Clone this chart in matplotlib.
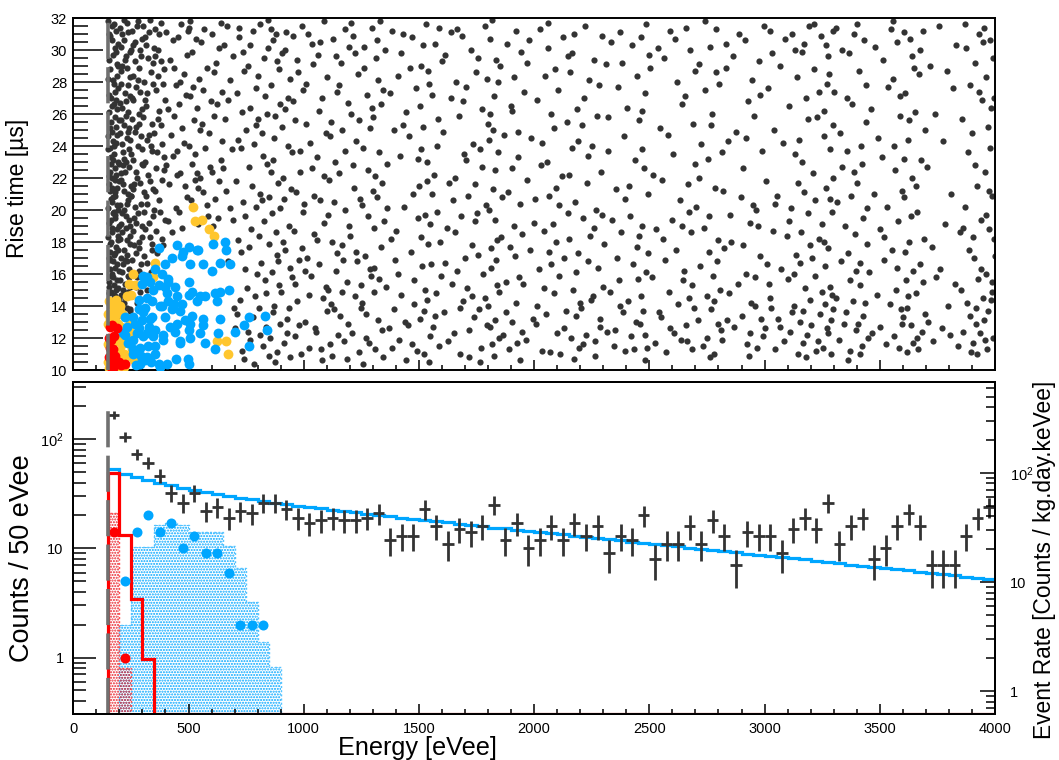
import numpy as np
import matplotlib
matplotlib.use("Agg")
import matplotlib.pyplot as plt
from matplotlib.ticker import FixedLocator, NullFormatter, FuncFormatter, MultipleLocator, LogLocator

plt.rcParams['font.family'] = ['Liberation Sans', 'DejaVu Sans']
plt.rcParams['mathtext.fontset'] = 'custom'
plt.rcParams['mathtext.rm'] = 'Liberation Sans'
plt.rcParams['mathtext.it'] = 'Liberation Sans:italic'
plt.rcParams['lines.scale_dashes'] = False
plt.rcParams['hatch.linewidth'] = 1.0

# ---------------- data ----------------
threshold_eV = 150
bin_width = 50
bin_centers = np.arange(175, 4000, 50)
edges = np.arange(150, 4001, 50)

data_counts = [166, 105, 73, 61, 46, 32, 26, 32, 22, 24,
               19, 22, 21, 26, 26, 23, 19, 17, 18, 19,
               18, 18, 19, 21, 12, 13, 13, 23, 16, 11,
               15, 14, 16, 25, 12, 17, 10, 12, 16, 12,
               17, 13, 16, 9, 13, 12, 20, 8, 11, 11,
               16, 11, 18, 13, 7, 14, 13, 13, 9, 15,
               19, 15, 26, 11, 16, 19, 8, 10, 16, 21,
               16, 7, 7, 7, 13, 19, 24]

fit_counts = [53.0, 48.2, 45.0, 42.2, 39.8, 37.7, 35.8, 34.1, 32.7, 31.4,
              30.1, 29.0, 28.0, 27.0, 26.2, 25.4, 24.6, 23.9, 23.2, 22.5,
              21.9, 21.3, 20.7, 20.2, 19.7, 19.1, 18.6, 18.2, 17.7, 17.3,
              16.8, 16.4, 15.9, 15.5, 15.2, 14.8, 14.4, 14.1, 13.7, 13.4,
              13.0, 12.7, 12.4, 12.1, 11.8, 11.5, 11.2, 10.9, 10.7, 10.4,
              10.1, 9.9, 9.6, 9.4, 9.2, 8.9, 8.7, 8.5, 8.3, 8.1,
              7.9, 7.7, 7.5, 7.3, 7.1, 6.9, 6.8, 6.6, 6.4, 6.3,
              6.1, 6.0, 5.8, 5.7, 5.5, 5.4, 5.2]

blue_sim_edges = [200, 250, 300, 350, 400, 450, 500, 550, 600, 650, 700, 750, 800, 850, 900]
blue_sim_counts = [2.0, 10.3, 10.3, 16.5, 17.0, 16.5, 14.0, 14.0, 14.0, 10.5, 6.6, 3.2, 1.4, 0.82]

red_sim_edges = [150, 200, 250]
red_sim_counts = [21.0, 0.8]

red_fit_edges = [150, 200, 250, 300, 350]
red_fit_counts = [48.7, 13.2, 3.4, 0.97]

blue_dot_E = [225, 275, 325, 375, 425, 475, 525, 575, 625, 675, 725, 775, 825]
blue_dot_counts = [5, 14, 20, 14, 17, 10, 13, 9, 9, 6, 2, 2, 2]
red_dot_E = [175, 225]
red_dot_counts = [14, 1]

rate_scale = 2.04  # Counts/50eVee -> Counts/(kg.day.keVee)

# scatter: flat lists of (energy eV, rise time us)
black_xy = [
 152,31.8, 158,30.9, 166,31.5, 171,29.7, 184,31.2, 193,30.4, 161,28.8, 177,27.9, 189,29.1, 155,27.2,
 168,26.5, 180,25.8, 196,27.6, 159,25.1, 173,24.3, 187,26.9, 151,23.8, 164,22.9, 178,23.5, 191,24.7,
 156,22.1, 170,21.4, 183,22.6, 197,21.8, 162,20.7, 175,19.9, 188,20.3, 153,19.2, 167,18.6, 181,19.5,
 194,18.1, 158,17.4, 172,16.8, 185,17.7, 199,16.2, 163,15.9, 176,15.3, 190,15.6, 154,14.8, 169,14.2,
 182,14.6, 195,13.9, 160,13.4, 174,13.1, 187,12.8, 157,31.0, 179,30.1, 191,28.4, 165,27.0, 186,25.2,
 152,24.6, 174,23.1, 198,22.9, 161,21.2, 183,20.9, 150,20.1, 170,18.9, 192,18.4, 158,16.9, 180,16.4,
 196,15.1, 165,14.9, 185,13.6, 155,29.4, 172,28.1, 189,26.3, 163,25.5, 178,24.0, 194,23.0, 154,21.6,
 168,20.5, 182,19.7, 199,19.0, 160,17.9, 176,17.2, 191,16.6, 157,15.5, 171,14.4, 188,13.3, 166,12.9,
 153,26.1, 184,29.9, 175,31.6, 197,25.6, 162,23.3, 181,21.9, 195,20.0, 150,18.3, 173,15.8, 186,14.1,
 159,22.4, 177,26.6, 192,17.5, 167,16.0, 179,21.1, 155,17.0, 184,15.0, 170,24.9, 196,29.0, 163,19.4,
 151,28.2, 187,22.2, 176,13.8, 161,16.3, 198,14.4, 174,20.8, 158,23.9, 189,18.8, 168,30.6, 181,27.4,
 156,13.5, 193,12.6, 165,18.0, 178,14.7, 185,24.2, 172,19.8, 190,21.4, 153,15.2, 169,22.0, 183,17.3,
 204,31.4, 218,30.6, 231,31.7, 245,29.9, 209,28.7, 224,29.4, 238,27.8, 212,26.4, 229,25.9, 247,27.1,
 201,24.8, 216,23.6, 233,24.5, 242,22.7, 207,21.9, 221,21.2, 236,20.6, 249,21.5, 213,19.8, 227,18.9,
 240,19.4, 203,18.2, 219,17.5, 234,16.8, 246,17.9, 210,16.1, 225,15.4, 239,15.9, 205,14.7, 222,14.2,
 237,14.9, 248,13.8, 214,13.5, 230,26.8, 243,25.1, 208,30.2, 226,22.4, 241,23.8, 202,20.3, 217,16.6,
 235,18.1, 248,15.2, 211,24.1, 223,27.3, 239,31.1, 206,17.0, 220,20.0, 232,13.9, 245,19.0, 215,22.8,
 228,29.6, 244,28.3, 209,25.6, 236,21.0, 203,15.6, 219,23.2, 231,17.2, 247,24.4, 212,18.6, 226,14.5,
 241,16.3, 207,27.9, 222,31.9, 238,26.1, 250,20.9, 214,21.6, 229,19.6, 243,15.8, 205,22.3, 218,13.3,
 234,28.9, 246,18.4, 211,29.0, 225,16.9, 237,24.9, 202,26.7, 221,25.3, 232,20.4, 249,30.0, 216,15.0,
 240,12.9, 208,19.1, 227,23.0, 244,13.7, 213,31.0,
 253,31.2, 266,30.5, 279,31.8, 292,29.6, 258,28.4, 271,27.7, 286,28.9, 299,26.3, 255,25.7, 269,24.9,
 283,26.0, 296,23.8, 261,23.1, 274,22.4, 289,21.7, 252,20.9, 265,21.6, 280,19.8, 294,20.4, 259,18.7,
 273,19.2, 287,17.6, 298,18.3, 256,16.9, 270,17.3, 284,16.2, 263,15.4, 277,15.8, 291,14.9, 254,14.6,
 268,29.3, 282,24.0, 297,30.7, 260,26.9, 276,22.0, 290,27.4, 257,21.3, 272,25.2, 285,18.0, 299,22.9,
 262,19.5, 278,31.5, 293,16.6, 251,23.5, 267,20.2, 281,28.1, 295,24.6, 264,17.8, 275,14.2, 288,30.0,
 253,27.0, 270,15.2, 286,25.4, 298,19.0, 259,30.3,
 304,31.5, 317,30.3, 331,31.9, 345,29.2, 308,28.0, 322,27.3, 338,28.6, 302,25.8, 315,26.5, 329,24.7,
 343,25.4, 311,23.0, 326,22.2, 340,23.7, 306,21.1, 320,20.4, 334,21.8, 348,19.6, 313,18.8, 327,19.2,
 341,17.9, 305,17.1, 319,16.7, 336,16.1, 347,27.9, 309,30.8, 324,29.5, 339,24.0, 301,22.8, 316,20.9,
 332,18.3, 346,21.3, 312,26.9, 328,31.1, 343,17.5, 307,19.9, 321,24.4, 335,15.6, 349,30.1, 318,15.0,
 353,31.3, 366,30.0, 381,31.7, 395,28.8, 358,27.5, 372,26.2, 388,27.9, 351,24.8, 364,23.6, 379,25.3,
 392,22.5, 356,21.2, 370,20.6, 385,21.9, 398,19.4, 361,18.7, 376,19.9, 390,17.8, 354,29.6, 368,28.4,
 383,24.1, 397,26.9, 359,22.6, 374,31.0, 387,18.2, 352,20.0, 367,25.7, 380,29.3, 394,23.3, 363,17.3,
 404,31.1, 418,29.4, 433,30.6, 446,27.8, 409,26.3, 424,24.7, 439,25.9, 402,22.8, 416,21.6, 431,23.4,
 444,20.1, 411,19.3, 427,18.6, 437,28.9, 449,22.2,
 453,30.8, 467,31.6, 481,28.5, 495,29.7, 458,26.6, 472,25.1, 488,27.2, 451,23.7, 464,22.3, 479,24.2,
 493,20.8, 457,19.9, 470,18.9, 485,21.5, 498,31.2, 462,28.0,
 503,31.4, 517,29.9, 532,30.7, 546,28.2, 508,27.1, 523,25.6, 538,26.4, 501,24.0, 514,22.9, 529,23.5,
 543,21.4, 510,20.6, 526,21.9, 540,19.1, 505,31.8, 519,27.7, 535,22.3, 548,25.0,
 553,30.5, 567,31.3, 582,28.9, 596,26.8, 558,25.4, 573,23.9, 588,24.8, 551,22.0, 564,21.1, 579,20.3,
 594,22.7, 561,27.5, 585,19.6,
 604,31.0, 618,29.2, 633,30.1, 647,27.4, 609,25.9, 624,26.6, 639,23.1, 602,22.4, 615,20.7, 631,21.8,
 645,24.3, 611,28.6, 627,19.5, 642,31.7, 606,19.0,
 653,30.3, 667,31.5, 681,28.1, 695,29.6, 658,25.7, 672,26.9, 688,23.8, 651,22.6, 664,21.2, 679,20.1,
 693,19.4, 671,16.8, 697,13.9,
 703,12.6, 709,27.3, 714,18.1, 718,30.8, 722,14.4, 726,23.9, 731,11.2, 735,20.5, 739,28.7, 744,16.3,
 748,25.0, 706,21.8, 712,13.5, 720,31.4, 728,17.4, 733,26.1, 741,10.7, 746,19.6, 716,24.4, 737,29.9,
 752,15.1, 756,29.0, 761,22.7, 765,11.9, 769,26.4, 773,18.8, 778,31.2, 782,13.3, 786,24.1, 791,20.2,
 795,27.6, 799,16.0, 758,12.4, 767,30.3, 776,21.5, 784,10.4, 793,25.3, 763,17.7, 788,14.6,
 801,28.4, 805,13.9, 809,21.0, 812,31.6, 816,16.7, 820,24.8, 824,11.5, 828,19.3, 832,27.1, 836,14.8,
 840,22.9, 844,30.1, 848,17.9, 803,25.7, 811,12.2, 818,20.6, 826,29.5, 834,15.6, 842,26.0, 849,10.9,
 807,18.4, 822,23.4, 838,12.7, 846,31.9,
 851,20.8, 854,12.0, 858,27.8, 861,16.1, 865,30.6, 868,23.1, 872,14.0, 875,25.9, 879,18.6, 882,11.1,
 886,29.3, 889,21.7, 893,15.3, 896,26.6, 899,12.9, 856,31.3, 863,19.8, 870,24.5, 877,10.5, 884,17.2,
 891,28.8, 857,22.4, 866,13.6, 880,31.0, 888,16.8, 897,20.1,
 902,14.9, 906,29.8, 909,22.0, 913,11.7, 917,26.3, 920,17.5, 924,31.1, 928,13.2, 931,24.0, 935,19.0,
 939,28.2, 942,10.8, 946,21.3, 949,15.8, 904,25.2, 911,18.0, 919,30.0, 926,12.3, 933,27.0, 940,16.4,
 947,23.6, 915,20.7, 937,13.9,
 952,30.9, 956,18.7, 960,12.1, 964,25.6, 968,21.1, 972,14.3, 976,28.6, 980,16.9, 984,23.7, 988,11.0,
 992,31.5, 996,19.9, 954,26.8, 962,15.4, 970,29.4, 978,12.8, 986,22.4, 994,17.6, 999,27.5,
 1003,20.4, 1007,13.0, 1012,27.9, 1016,17.0, 1020,31.0, 1025,11.4, 1029,24.2, 1033,15.9, 1037,22.6, 1042,29.1,
 1046,18.5, 1049,12.6, 1010,25.4, 1022,14.7, 1035,30.4, 1044,20.9, 1005,16.2,
 1052,12.4, 1056,23.3, 1061,29.7, 1065,16.6, 1069,20.6, 1073,11.3, 1078,27.0, 1082,14.5, 1086,31.8, 1090,19.2,
 1095,24.8, 1099,13.7, 1058,18.1, 1067,26.2, 1080,10.6, 1088,22.1, 1097,15.2, 1071,30.5,
 1102,28.3, 1106,15.0, 1110,21.9, 1115,11.6, 1119,25.5, 1123,18.0, 1127,30.7, 1132,13.8, 1136,23.0, 1140,16.2,
 1144,27.4, 1149,12.2, 1104,19.7, 1113,24.6, 1121,10.9, 1130,20.5, 1138,29.6, 1146,17.3, 1117,14.1,
 1151,22.3, 1156,13.4, 1160,29.2, 1164,17.8, 1168,25.0, 1173,11.8, 1177,20.0, 1181,31.3, 1186,15.5, 1190,26.7,
 1194,12.9, 1198,19.0, 1154,27.8, 1166,14.9, 1179,23.7, 1188,10.7, 1196,30.2, 1171,16.9,
 1202,18.4, 1206,26.0, 1211,12.3, 1215,30.9, 1219,21.4, 1223,14.6, 1228,24.3, 1232,16.8, 1236,28.5, 1241,11.1,
 1245,20.7, 1249,13.9, 1204,31.7, 1213,22.8, 1226,17.4, 1238,25.6, 1247,15.3, 1221,29.8,
 1252,14.2, 1256,23.9, 1260,30.2, 1265,17.1, 1269,12.0, 1273,27.2, 1278,19.6, 1282,11.7, 1286,25.1, 1290,15.9,
 1295,31.4, 1299,21.2, 1254,20.3, 1263,28.9, 1271,13.5, 1280,22.5, 1288,16.3, 1297,26.4, 1258,10.4,
 1301,25.8, 1305,16.4, 1309,11.3, 1314,29.5, 1318,20.8, 1322,13.1, 1326,23.6, 1331,31.8, 1335,17.7, 1339,12.5,
 1343,27.5, 1348,19.3, 1303,14.9, 1311,22.1, 1320,30.6, 1328,15.7, 1336,26.6, 1345,10.8, 1307,18.9, 1324,28.1,
 1341,21.7,
 1352,30.0, 1357,15.2, 1363,22.9, 1368,12.6, 1374,27.3, 1379,18.2, 1385,11.4, 1390,25.0, 1396,16.9, 1360,20.1,
 1382,31.2, 1393,13.8,
 1402,18.7, 1407,28.4, 1413,11.9, 1418,23.4, 1424,14.7, 1429,31.0, 1435,20.2, 1440,13.0, 1446,26.1, 1410,16.0,
 1432,25.3, 1443,10.6, 1421,29.8,
 1453,12.8, 1458,24.6, 1464,17.4, 1469,30.8, 1475,21.0, 1480,14.1, 1486,27.6, 1491,11.2, 1497,19.5, 1461,28.9,
 1478,15.6, 1494,23.2, 1472,11.6,
 1501,21.5, 1505,13.2, 1509,29.0, 1513,16.5, 1517,25.2, 1521,11.0, 1525,19.7, 1529,31.6, 1533,14.4, 1537,23.0,
 1541,17.9, 1545,27.9, 1549,12.1, 1503,26.5, 1511,18.3, 1519,30.3, 1527,15.0, 1535,21.8, 1543,10.5, 1507,23.8,
 1523,13.7, 1539,28.7, 1547,19.1,
 1552,16.6, 1557,27.2, 1562,12.7, 1566,22.2, 1571,30.4, 1575,14.8, 1580,19.9, 1584,25.7, 1589,11.5, 1593,18.0,
 1598,29.3, 1555,21.0, 1568,13.4, 1577,24.0, 1587,31.4, 1596,15.9,
 1603,24.9, 1608,13.6, 1614,29.7, 1620,18.9, 1626,11.8, 1632,21.7, 1637,27.0, 1643,15.4, 1648,20.6, 1611,16.7,
 1640,31.1,
 1652,12.3, 1657,22.0, 1662,28.0, 1667,16.2, 1672,25.9, 1677,11.0, 1682,19.6, 1687,30.9, 1692,14.3, 1697,23.5,
 1655,18.6, 1665,31.3, 1680,13.9, 1690,26.8, 1699,17.0,
 1703,27.7, 1708,15.1, 1713,20.9, 1719,12.5, 1724,30.0, 1729,17.8, 1734,24.1, 1739,13.3, 1745,21.6, 1749,28.6,
 1716,10.8, 1731,14.6, 1742,19.3, 1706,23.1,
 1752,19.8, 1756,29.5, 1761,13.8, 1766,23.8, 1770,11.4, 1775,26.3, 1780,16.0, 1785,31.5, 1789,20.3, 1794,12.8,
 1798,25.4, 1758,17.2, 1773,22.7, 1787,14.5, 1796,28.2, 1764,10.5,
 1801,14.0, 1805,24.4, 1809,30.7, 1812,17.6, 1816,11.6, 1820,21.3, 1824,27.1, 1828,13.1, 1832,19.4, 1836,29.4,
 1840,15.3, 1844,23.6, 1848,12.0, 1803,20.0, 1807,26.0, 1814,16.4, 1818,31.9, 1826,10.9, 1830,22.5, 1838,18.1,
 1842,28.0, 1846,14.9, 1810,12.7, 1822,25.0, 1834,16.9,
 1852,29.0, 1858,18.3, 1864,12.2, 1870,24.7, 1876,15.5, 1882,30.4, 1887,21.1, 1893,11.3, 1898,26.5, 1861,20.8,
 1879,13.6, 1895,17.7,
 1902,22.6, 1906,13.0, 1911,28.3, 1915,17.1, 1920,31.2, 1924,11.7, 1929,24.9, 1933,15.8, 1938,20.4, 1942,29.9,
 1947,12.4, 1904,26.2, 1913,19.0, 1922,14.2, 1931,23.3, 1940,10.6, 1949,18.5,
 1953,15.4, 1958,27.4, 1964,11.9, 1970,21.9, 1976,30.6, 1982,17.5, 1987,24.5, 1993,13.2, 1998,19.2, 1967,29.2,
 2003,20.7, 2008,12.9, 2014,26.9, 2019,16.3, 2025,31.3, 2030,22.8, 2036,11.2, 2041,18.7, 2047,28.4, 2011,14.0,
 2033,24.2, 2044,15.1,
 2052,13.5, 2056,23.0, 2061,30.1, 2066,17.4, 2070,11.1, 2075,26.0, 2080,19.1, 2084,14.8, 2089,28.8, 2094,21.4,
 2098,12.3, 2058,31.7, 2072,16.6, 2086,25.1, 2096,18.0, 2063,20.9,
 2103,27.5, 2109,15.9, 2114,11.0, 2120,22.1, 2126,30.8, 2131,17.0, 2137,13.7, 2142,25.5, 2148,19.8, 2106,20.3,
 2128,12.6, 2145,29.6,
 2151,18.2, 2155,28.6, 2160,12.0, 2164,23.9, 2169,15.0, 2173,31.0, 2178,20.5, 2182,13.4, 2187,26.3, 2191,17.3,
 2196,11.4, 2153,22.2, 2166,29.8, 2180,16.1, 2189,24.3, 2199,14.2, 2171,10.7,
 2203,13.9, 2208,25.3, 2213,19.5, 2219,31.5, 2224,12.2, 2229,21.7, 2235,16.8, 2240,28.1, 2246,14.4, 2211,11.6,
 2232,23.4, 2243,18.4, 2216,27.0,
 2252,24.0, 2256,14.6, 2261,29.4, 2266,11.8, 2270,20.0, 2275,16.4, 2280,27.8, 2284,12.7, 2289,22.4, 2294,30.9,
 2298,15.2, 2258,18.9, 2273,25.9, 2287,13.2, 2296,19.7, 2263,10.9,
 2304,17.9, 2310,29.1, 2316,12.4, 2322,23.7, 2328,14.9, 2334,30.5, 2340,19.4, 2346,11.5, 2319,25.8,
 2352,12.5, 2357,21.3, 2363,27.7, 2368,15.6, 2374,31.1, 2379,18.6, 2385,13.6, 2390,24.6, 2396,11.2, 2360,17.0,
 2382,29.2, 2393,20.7, 2371,14.0,
 2403,26.4, 2408,14.3, 2414,19.6, 2420,12.1, 2425,30.3, 2431,16.6, 2436,23.1, 2442,13.0, 2448,28.4, 2411,21.5,
 2433,11.3, 2445,17.7,
 2451,15.7, 2455,25.6, 2459,12.9, 2464,30.8, 2468,19.0, 2472,13.7, 2476,22.6, 2481,27.3, 2485,16.1, 2489,11.4,
 2493,21.0, 2497,29.7, 2453,18.4, 2462,14.6, 2470,26.2, 2479,12.2, 2487,31.6, 2495,17.3, 2466,23.8, 2483,10.6,
 2504,28.9, 2510,15.8, 2517,22.2, 2523,11.7, 2530,18.8, 2536,30.1, 2542,13.6, 2548,25.1,
 2552,13.3, 2557,21.9, 2563,29.5, 2568,16.9, 2574,11.1, 2580,24.7, 2585,14.9, 2591,31.2, 2597,19.4, 2560,18.2,
 2588,12.6,
 2603,23.5, 2608,12.3, 2614,17.5, 2620,28.0, 2626,14.1, 2632,20.6, 2637,11.9, 2643,26.6, 2648,15.6, 2611,30.7,
 2640,19.0,
 2652,16.2, 2656,27.1, 2661,12.8, 2666,21.6, 2670,14.5, 2675,30.0, 2680,18.6, 2684,11.3, 2689,25.4, 2694,13.9,
 2698,22.9, 2658,31.4, 2673,19.9, 2687,15.3, 2696,28.7, 2663,11.8,
 2703,20.2, 2709,13.1, 2714,29.1, 2720,16.5, 2726,24.1, 2732,11.5, 2737,18.9, 2743,27.5, 2748,14.6, 2717,22.0,
 2740,31.8,
 2751,12.0, 2755,23.2, 2759,17.4, 2764,30.2, 2768,13.8, 2773,26.0, 2777,15.9, 2781,11.0, 2786,21.4, 2790,28.6,
 2794,16.8, 2798,12.9, 2757,19.6, 2766,25.3, 2779,14.3, 2788,31.3, 2796,18.1, 2762,10.8,
 2803,27.9, 2808,15.0, 2814,11.9, 2820,21.2, 2825,17.6, 2831,30.4, 2837,13.1, 2842,24.3, 2848,19.7, 2811,12.5,
 2834,28.9, 2845,14.8, 2817,23.6,
 2855,18.0, 2862,29.6, 2869,12.7, 2876,24.9, 2883,15.4, 2890,31.0, 2897,20.8,
 2903,13.4, 2908,22.6, 2913,30.6, 2919,16.0, 2924,11.6, 2929,26.8, 2935,19.2, 2940,14.2, 2946,28.1, 2906,17.8,
 2921,24.5, 2938,12.3, 2949,20.3, 2931,10.9,
 2952,25.9, 2957,14.0, 2963,20.0, 2968,11.4, 2974,29.3, 2979,17.1, 2985,13.2, 2990,23.7, 2996,31.5, 2960,15.8,
 2982,27.2, 2993,12.1, 2971,19.0,
 3003,12.6, 3008,21.8, 3014,27.6, 3019,15.4, 3025,31.2, 3030,13.9, 3036,18.7, 3041,25.0, 3047,11.3, 3011,16.6,
 3033,29.8, 3044,20.4, 3022,14.5,
 3054,20.9, 3060,13.2, 3066,29.0, 3072,16.3, 3078,24.2, 3084,11.8, 3090,30.7, 3096,18.4, 3069,12.7,
 3102,15.7, 3106,26.5, 3111,12.4, 3116,20.1, 3121,31.0, 3126,14.0, 3131,23.5, 3136,17.2, 3141,28.3, 3146,11.0,
 3104,19.3, 3118,13.6, 3133,30.0, 3144,21.7, 3128,16.0,
 3151,24.4, 3155,13.0, 3159,18.6, 3164,29.9, 3168,11.7, 3172,21.1, 3177,15.1, 3181,27.0, 3185,12.2, 3190,19.8,
 3194,31.5, 3198,14.4, 3153,16.7, 3162,23.0, 3170,30.4, 3179,10.8, 3188,25.7, 3196,17.8, 3166,13.7,
 3203,12.8, 3208,22.3, 3213,28.8, 3219,15.9, 3224,11.2, 3229,25.8, 3235,18.2, 3240,13.5, 3246,30.9, 3206,17.0,
 3221,20.6, 3238,27.4, 3249,14.9, 3216,31.6, 3232,11.8,
 3251,19.1, 3254,11.4, 3258,26.2, 3261,14.1, 3265,30.3, 3268,21.4, 3272,12.6, 3275,17.6, 3279,28.5, 3282,15.2,
 3286,23.8, 3289,11.0, 3293,19.9, 3296,31.2, 3299,13.8, 3256,24.6, 3263,16.5, 3270,27.9, 3277,12.3, 3284,20.7,
 3291,14.7, 3298,25.3, 3259,18.0, 3274,29.6, 3288,13.1, 3295,22.0,
 3303,27.4, 3309,14.5, 3315,20.5, 3321,11.9, 3327,24.8, 3333,16.8, 3338,30.0, 3344,12.9, 3349,19.0, 3312,31.4,
 3336,22.7,
 3352,13.6, 3356,23.7, 3361,17.3, 3366,29.8, 3370,11.2, 3375,20.9, 3380,26.6, 3384,14.3, 3389,31.0, 3394,18.5,
 3398,12.5, 3358,27.0, 3372,15.6, 3387,22.4, 3396,16.2, 3363,10.6,
 3401,21.7, 3405,12.9, 3410,28.7, 3414,16.7, 3418,24.0, 3423,11.5, 3427,19.5, 3431,30.6, 3436,14.2, 3440,25.5,
 3444,17.9, 3449,12.0, 3403,31.6, 3412,15.3, 3421,22.9, 3429,13.4, 3438,27.8, 3446,20.1, 3416,11.0,
 3455,16.1, 3461,26.3, 3468,12.3, 3474,21.0, 3481,30.2, 3487,14.7, 3494,24.5, 3499,18.8,
 3503,12.7, 3508,23.3, 3514,29.4, 3520,16.9, 3526,11.6, 3532,20.2, 3537,27.7, 3543,14.1, 3548,31.3, 3517,18.3,
 3552,17.5, 3556,28.2, 3561,12.1, 3566,22.5, 3570,15.0, 3575,30.5, 3580,19.3, 3584,11.4, 3589,25.9, 3594,13.8,
 3598,21.2, 3558,31.8, 3573,16.4, 3587,27.1, 3596,12.9, 3563,24.0,
 3601,13.3, 3605,20.8, 3609,27.3, 3614,15.6, 3618,11.1, 3622,24.4, 3626,18.0, 3631,30.7, 3635,12.8, 3639,22.0,
 3643,16.2, 3648,28.9, 3603,31.1, 3611,17.4, 3620,13.9, 3628,25.6, 3637,19.6, 3645,11.7, 3607,23.2, 3624,14.6,
 3641,29.6,
 3652,26.1, 3656,14.8, 3661,19.9, 3666,11.3, 3670,28.5, 3675,16.6, 3680,23.1, 3684,12.4, 3689,31.2, 3694,18.2,
 3698,13.5, 3658,21.5, 3673,30.0, 3687,15.5, 3696,25.0, 3663,12.0,
 3704,22.7, 3711,13.0, 3718,29.0, 3725,17.7, 3732,11.8, 3739,26.0, 3746,15.8,
 3755,31.5, 3762,16.3, 3769,12.6, 3776,24.3, 3783,19.1, 3790,28.7, 3797,14.0,
 3804,12.2, 3811,21.0, 3818,27.6, 3825,15.4, 3832,30.3, 3839,11.5, 3846,18.6,
 3852,15.0, 3857,25.7, 3863,12.4, 3868,20.2, 3874,30.1, 3879,14.2, 3885,17.5, 3890,27.8, 3896,11.1, 3860,18.9,
 3882,23.6, 3893,13.4, 3871,31.6,
 3901,24.8, 3905,11.7, 3910,17.0, 3914,29.2, 3918,13.9, 3923,21.5, 3927,15.7, 3931,31.0, 3936,12.3, 3940,19.4,
 3944,26.9, 3949,14.5, 3903,18.3, 3912,22.8, 3921,11.0, 3929,27.4, 3938,16.3, 3946,30.5, 3916,12.9,
 3951,13.1, 3955,22.4, 3959,28.3, 3963,16.0, 3967,11.3, 3971,25.2, 3975,18.8, 3979,30.6, 3983,14.4, 3987,20.9,
 3991,12.0, 3995,27.0, 3999,17.1, 3953,31.4, 3961,19.7, 3969,13.7, 3977,23.9, 3985,15.5, 3993,29.5, 3957,11.9,
 3973,21.2, 3981,26.4, 3989,14.9, 3997,18.2,
]

yellow_xy = [
 157,14.3, 165,14.1, 175,13.9, 186,14.4, 196,13.6, 152,13.5, 161,13.2, 171,13.4, 183,13.1, 193,12.9,
 203,14.0, 212,13.5, 207,12.7, 218,12.3, 198,12.0, 210,11.6, 222,11.0, 214,10.6, 201,11.2, 228,12.0,
 232,10.9, 219,10.2, 240,13.2, 235,14.6, 245,12.4, 253,11.3, 151,12.9, 151,11.6, 152,10.5, 153,10.1,
 190,11.8, 194,10.0, 262,10.6, 217,10.2, 240,15.4, 250,14.7,
 261,16.0, 268,15.3, 355,16.7, 345,15.8, 519,20.2, 529,19.3, 558,19.4, 590,18.8, 612,18.4, 623,11.8,
 662,11.8, 670,11.0,
]

red_xy = [
 158,12.7, 168,12.8, 190,12.6, 156,12.0, 165,11.9, 178,12.1, 160,11.4, 171,11.3, 155,10.8, 167,10.6,
 180,10.9, 162,10.2, 174,10.1, 186,10.4, 199,10.5, 205,10.3, 225,10.4,
]

blue_xy = [
 374,17.6, 452,17.8, 504,17.7, 543,17.5, 478,17.4, 428,17.0, 471,17.1, 507,16.6, 565,16.6, 601,16.2,
 606,17.9, 659,18.0, 664,17.5, 638,16.7, 678,16.6, 399,16.6, 355,16.3, 384,16.0, 304,15.9, 297,15.4,
 413,15.5, 399,15.2, 348,15.0, 514,14.9, 500,14.7, 551,14.6, 572,14.6, 536,14.3, 449,14.6, 413,14.3,
 384,14.0, 428,13.8, 471,14.1, 464,13.7, 616,14.8, 638,14.9, 674,15.0, 623,14.3, 341,14.3, 304,13.6,
 283,13.8, 261,13.3, 225,13.3, 232,12.7, 217,12.3, 268,12.9, 297,13.1, 333,13.2, 275,12.3, 319,12.3,
 355,12.5, 399,13.3, 420,12.7, 449,12.9, 486,13.1, 514,13.4, 507,12.9, 565,13.2, 638,13.2, 565,12.8,
 630,12.3, 703,12.4, 739,12.8, 761,13.3, 833,13.4, 841,12.5, 761,11.5, 551,12.3, 507,12.0, 464,11.8,
 500,12.5, 442,12.4, 391,12.2, 348,12.1, 304,12.1, 261,11.9, 290,11.4, 326,11.5, 355,11.5, 391,11.9,
 464,11.7, 572,11.7, 616,11.3, 275,11.2, 312,10.6, 355,11.0, 370,10.4, 406,10.4, 446,10.7, 496,10.7,
 504,10.4, 377,10.2, 225,12.2, 239,11.7, 261,11.3, 319,10.8, 290,10.4, 341,13.3, 377,14.0, 435,14.1,
 406,14.8, 442,15.2, 370,15.3, 333,15.5, 319,15.8, 413,15.7, 500,15.5, 536,17.5, 258,11.0, 283,12.6,
 295,10.9, 312,13.9, 330,12.7, 338,10.5, 322,14.5, 286,14.4, 270,10.3,
]

# ---------------- styles ----------------
C_BLACK = '#333333'
C_BLUE = '#00a6ff'
C_RED = '#ff0000'
C_YELLOW = '#ffc62e'
C_GRAY = '#707070'

W, H = 1059, 760
fig = plt.figure(figsize=(W / 100, H / 100), dpi=100)

def fx(px):
    return px / W

def fy(py):
    return 1 - py / H

x_left, x_right = 73.3, 995
ax_top = fig.add_axes([fx(x_left), fy(370), fx(x_right) - fx(x_left), fy(18) - fy(370)])
ax_bot = fig.add_axes([fx(x_left), fy(714), fx(x_right) - fx(x_left), fy(382) - fy(714)])

# ---------- top panel ----------
bxy = np.array(black_xy).reshape(-1, 2)
yxy = np.array(yellow_xy).reshape(-1, 2)
rxy = np.array(red_xy).reshape(-1, 2)
cxy = np.array(blue_xy).reshape(-1, 2)

ax_top.scatter(bxy[:, 0], bxy[:, 1], s=20, color=C_BLACK, linewidths=0, zorder=2)
ax_top.scatter(yxy[:, 0], yxy[:, 1], s=50, color=C_YELLOW, linewidths=0, zorder=3)
ax_top.scatter(cxy[:, 0], cxy[:, 1], s=50, color=C_BLUE, linewidths=0, zorder=4)
ax_top.scatter(rxy[:, 0], rxy[:, 1], s=50, color=C_RED, linewidths=0, zorder=5)
ax_top.axvline(threshold_eV, color=C_GRAY, lw=2.6, dashes=(26, 6), zorder=6)

ax_top.set_xlim(0, 4000)
ax_top.set_ylim(10, 32)
ax_top.xaxis.set_major_locator(MultipleLocator(500))
ax_top.xaxis.set_minor_locator(MultipleLocator(100))
ax_top.yaxis.set_major_locator(MultipleLocator(2))
ax_top.yaxis.set_minor_locator(MultipleLocator(0.5))
ax_top.tick_params(axis='x', which='both', direction='in', top=False, labelbottom=False)
ax_top.tick_params(axis='x', which='major', length=7.2, width=1.1)
ax_top.tick_params(axis='x', which='minor', length=3.6, width=1.1)
ax_top.tick_params(axis='y', which='both', direction='in', right=False, labelsize=10.5, pad=4.5)
ax_top.tick_params(axis='y', which='major', length=21.5, width=1.1)
ax_top.tick_params(axis='y', which='minor', length=10.8, width=1.1)
for s in ax_top.spines.values():
    s.set_linewidth(1.4)

# ---------- bottom panel ----------
ymin, ymax = 0.304, 333
ax_bot.set_yscale('log')

ax_bot.stairs(blue_sim_counts, blue_sim_edges, baseline=1e-3, fill=True, facecolor='none',
              edgecolor=C_BLUE, hatch='......', linewidth=0, zorder=1)
ax_bot.stairs(blue_sim_counts, blue_sim_edges, baseline=1e-3, color='#55c3ff', lw=1.0,
              linestyle=(0, (1.5, 1.5)), zorder=1.1)
ax_bot.stairs(red_sim_counts, red_sim_edges, baseline=1e-3, fill=True, facecolor='none',
              edgecolor='#e8202a', hatch='......', linewidth=0, zorder=1.2)
ax_bot.stairs(red_sim_counts, red_sim_edges, baseline=1e-3, color='#ff5050', lw=1.0,
              linestyle=(0, (1.5, 1.5)), zorder=1.3)

ax_bot.stairs(fit_counts, edges, baseline=None, color=C_BLUE, lw=2.3, zorder=3)
ax_bot.stairs(red_fit_counts, red_fit_edges, baseline=ymin, color=C_RED, lw=2.3, zorder=3.1)
ax_bot.plot([red_fit_edges[-1], 4000], [ymin, ymin], color='#b00000', lw=2.3, zorder=3.1)

counts = np.array(data_counts, dtype=float)
ax_bot.errorbar(bin_centers, counts, xerr=bin_width / 2, yerr=np.sqrt(counts), fmt='none',
                ecolor=C_BLACK, elinewidth=2.0, capsize=0, zorder=4)
ax_bot.scatter(blue_dot_E, blue_dot_counts, s=52, color=C_BLUE, linewidths=0, zorder=5)
ax_bot.scatter(red_dot_E, red_dot_counts, s=52, color=C_RED, linewidths=0, zorder=5)
ax_bot.vlines(threshold_eV, ymin, 190, color=C_GRAY, lw=2.6, linestyles=[(0, (26, 6))], zorder=6)

ax_bot.set_xlim(0, 4000)
ax_bot.set_ylim(ymin, ymax)

def log_label(v, pos):
    if abs(v - 1) < 1e-9:
        return '1'
    if abs(v - 10) < 1e-9:
        return '10'
    if abs(v - 100) < 1e-9:
        return r'$10^{2}$'
    return ''

ax_bot.xaxis.set_major_locator(MultipleLocator(500))
ax_bot.xaxis.set_minor_locator(MultipleLocator(100))
ax_bot.yaxis.set_major_locator(FixedLocator([1, 10, 100]))
ax_bot.yaxis.set_minor_locator(LogLocator(base=10, subs=np.arange(2, 10)))
ax_bot.yaxis.set_major_formatter(FuncFormatter(log_label))
ax_bot.yaxis.set_minor_formatter(NullFormatter())
ax_bot.tick_params(axis='x', which='both', direction='in', top=False, labelsize=10.5, pad=6)
ax_bot.tick_params(axis='x', which='major', length=7.2, width=1.1)
ax_bot.tick_params(axis='x', which='minor', length=3.6, width=1.1)
ax_bot.tick_params(axis='y', which='both', direction='in', right=False, labelsize=10.5, pad=7)
ax_bot.tick_params(axis='y', which='major', length=16.5, width=1.1)
ax_bot.tick_params(axis='y', which='minor', length=9.4, width=1.1)
for s in ax_bot.spines.values():
    s.set_linewidth(1.4)

ax_r = ax_bot.twinx()
ax_r.set_yscale('log')
ax_r.set_ylim(ymin * rate_scale, ymax * rate_scale)
ax_r.yaxis.set_major_locator(FixedLocator([1, 10, 100]))
ax_r.yaxis.set_minor_locator(LogLocator(base=10, subs=np.arange(2, 10)))
ax_r.yaxis.set_major_formatter(FuncFormatter(log_label))
ax_r.yaxis.set_minor_formatter(NullFormatter())
ax_r.tick_params(axis='y', which='both', direction='in', left=False, right=True, labelsize=10.5, pad=11)
ax_r.tick_params(axis='y', which='major', length=10.8, width=1.1)
ax_r.tick_params(axis='y', which='minor', length=6.5, width=1.1)
for s in ax_r.spines.values():
    s.set_linewidth(1.4)

# ---------- titles ----------
fig.text(fx(18), fy(188), 'Rise time [µs]', rotation=90, ha='center', va='center', fontsize=16.5)
fig.text(fx(22), fy(558), 'Counts / 50 eVee', rotation=90, ha='center', va='center', fontsize=19.5)
fig.text(fx(417), fy(748), 'Energy [eVee]', ha='center', va='center', fontsize=18.2)
fig.text(fx(1045), fy(560), 'Event Rate [Counts / kg.day.keVee]', rotation=90, ha='center',
         va='center', fontsize=16.4)

fig.savefig('out.png', dpi=100)
